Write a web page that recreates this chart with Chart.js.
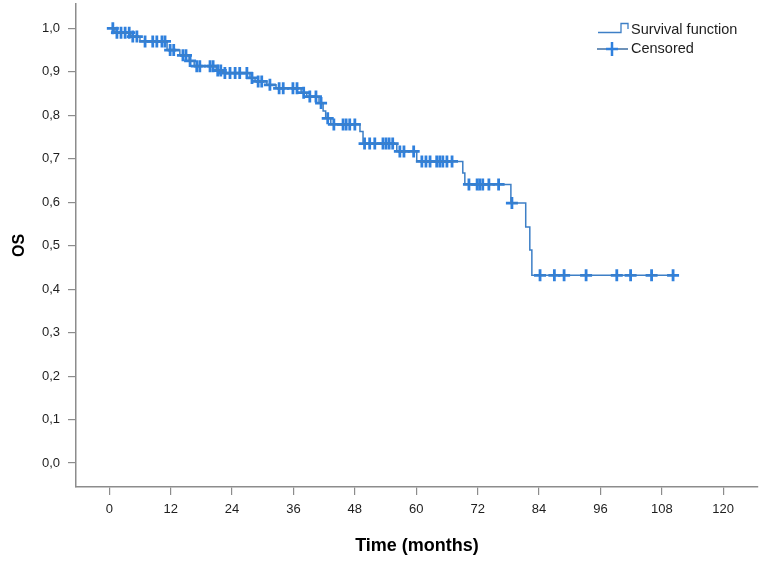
<!DOCTYPE html>
<html>
<head>
<meta charset="utf-8">
<script src="https://cdn.jsdelivr.net/npm/chart.js@4.4.0/dist/chart.umd.min.js"></script>
<style>
  body { margin: 0; background: #fff; }
  #wrap { width: 765px; height: 562px; }
</style>
</head>
<body>
<div id="wrap"><canvas id="kmChart" width="765" height="562"></canvas></div>
<script>
// Data ----------------------------------------------------------------------

// step times (months) and survival right after each step; last entry = end of follow-up
const eventTimes = [0, 1.1, 4.2, 6.0, 11.3, 13.8, 15.6, 16.6, 20.9, 22.2, 27.5, 28.5, 30.8, 32.6, 37.5, 38.6,
  41.0, 41.8, 42.3, 43.3, 49.0, 49.6, 56.2, 60.1, 69.1, 69.5, 78.5, 81.4, 82.2, 82.6, 110.4];
const survival = [1.0, 0.99, 0.981, 0.97, 0.95, 0.938, 0.925, 0.913, 0.903, 0.897, 0.886, 0.878, 0.87, 0.862, 0.852, 0.843,
  0.828, 0.81, 0.793, 0.779, 0.763, 0.735, 0.717, 0.694, 0.667, 0.641, 0.598, 0.543, 0.49, 0.432, 0.432];

// censored cases
const censorTimes = [0.7, 1.5, 2.3, 3.1, 3.9, 4.6, 5.4, 7.0, 8.5, 9.3, 10.3, 10.9, 11.9, 12.6, 14.4, 15.0, 15.8,
  17.1, 17.7, 19.7, 20.3, 21.2, 21.8, 22.6, 23.6, 24.6, 25.5, 26.9, 27.9, 29.1, 29.8, 31.4, 33.2, 34.0, 35.9, 36.7,
  38.0, 39.2, 40.4, 41.4, 42.7, 43.9, 45.7, 46.3, 47.0, 48.0, 49.9, 50.9, 51.9, 53.5, 54.1, 54.7, 55.4, 56.8, 57.6,
  59.5, 61.1, 61.9, 62.7, 64.0, 64.6, 65.2, 66.0, 67.0, 70.3, 71.9, 72.4, 73.0, 74.2, 76.1, 78.7, 84.2, 87.0, 88.9,
  93.2, 99.2, 101.9, 106.0, 110.2];
const censorSurv = [1.0, 0.99, 0.99, 0.99, 0.99, 0.981, 0.981, 0.97, 0.97, 0.97, 0.97, 0.97, 0.95, 0.95, 0.938, 0.938, 0.925,
  0.913, 0.913, 0.913, 0.913, 0.903, 0.903, 0.897, 0.897, 0.897, 0.897, 0.897, 0.886, 0.878, 0.878, 0.87, 0.862, 0.862, 0.862, 0.862,
  0.852, 0.843, 0.843, 0.828, 0.793, 0.779, 0.779, 0.779, 0.779, 0.779, 0.735, 0.735, 0.735, 0.735, 0.735, 0.735, 0.735, 0.717, 0.717,
  0.717, 0.694, 0.694, 0.694, 0.694, 0.694, 0.694, 0.694, 0.694, 0.641, 0.641, 0.641, 0.641, 0.641, 0.641, 0.598, 0.432, 0.432, 0.432,
  0.432, 0.432, 0.432, 0.432, 0.432];

const xTickValues = [0, 12, 24, 36, 48, 60, 72, 84, 96, 108, 120];
const yTickValues = [0, 0.1, 0.2, 0.3, 0.4, 0.5, 0.6, 0.7, 0.8, 0.9, 1.0];

const legendLabels = ['Survival function', 'Censored'];

// colours
const lineColor = '#3d7fc6';
const crossColor = '#2f80dd';
const axisColor = '#8c8c8c';
const textColor = '#1e1e1e';
const FONT = '"Liberation Sans", Arial, sans-serif';

// custom legend (top right, SPSS style) ---------------------------------------
const kmLegend = {
  id: 'kmLegend',
  afterDraw(chart) {
    const ctx = chart.ctx;
    ctx.save();
    // step icon
    ctx.strokeStyle = lineColor;
    ctx.lineWidth = 1.3;
    ctx.beginPath();
    ctx.moveTo(598, 32.5);
    ctx.lineTo(621, 32.5);
    ctx.lineTo(621, 23.5);
    ctx.lineTo(628, 23.5);
    ctx.lineTo(628, 29);
    ctx.stroke();
    // censored icon
    ctx.strokeStyle = '#4a76a8';
    ctx.lineWidth = 1.6;
    ctx.beginPath();
    ctx.moveTo(597, 49);
    ctx.lineTo(628, 49);
    ctx.stroke();
    ctx.strokeStyle = crossColor;
    ctx.lineWidth = 2.5;
    ctx.beginPath();
    ctx.moveTo(612, 42);
    ctx.lineTo(612, 56);
    ctx.moveTo(606, 49);
    ctx.lineTo(618, 49);
    ctx.stroke();
    // texts
    ctx.fillStyle = textColor;
    ctx.font = '14.5px ' + FONT;
    ctx.textBaseline = 'middle';
    ctx.textAlign = 'left';
    ctx.fillText(legendLabels[0], 631, 30);
    ctx.fillText(legendLabels[1], 631, 48.5);
    ctx.restore();
  }
};

// config ----------------------------------------------------------------------
const config = {
  type: 'line',
  data: {
    datasets: [{
      label: legendLabels[0],
      data: eventTimes.map((t, i) => ({ x: t, y: survival[i] })),
      stepped: 'before', // horizontal first, then drop
      borderColor: lineColor,
      borderWidth: 1.5,
      pointRadius: 0,
      fill: false
    }, {
      label: legendLabels[1],
      data: censorTimes.map((t, i) => ({ x: t, y: censorSurv[i] })),
      showLine: false,
      pointStyle: 'cross',
      pointRadius: 6,
      pointBorderWidth: 2.8,
      pointBorderColor: crossColor,
      pointBackgroundColor: crossColor
    }]
  },
  options: {
    responsive: false,
    animation: false,
    layout: { autoPadding: false, padding: { top: 4, right: 7, bottom: 0, left: 0 } },
    plugins: {
      legend: { display: false },
      tooltip: { enabled: false }
    },
    scales: {
      x: {
        type: 'linear',
        min: -6.5,
        max: 126.8,
        afterBuildTicks: (scale) => { scale.ticks = xTickValues.map(v => ({ value: v })); },
        afterFit: (scale) => {
          scale.height = 75;
          scale.paddingLeft = 0;
          scale.paddingRight = 0;
        },
        ticks: { color: textColor, font: { family: FONT, size: 13 }, padding: 7, maxRotation: 0 },
        grid: { display: true, drawOnChartArea: false, drawTicks: true, tickLength: 8, color: axisColor, lineWidth: 1.2 },
        border: { display: true, color: axisColor, width: 1.5 },
        title: {
          display: true,
          text: 'Time (months)',
          color: '#000',
          font: { family: FONT, size: 18, weight: 'bold' },
          padding: { top: 0, bottom: 5 }
        }
      },
      y: {
        type: 'linear',
        min: -0.055,
        max: 1.056,
        afterBuildTicks: (scale) => { scale.ticks = yTickValues.map(v => ({ value: v })); },
        afterFit: (scale) => {
          scale.width = 76;
          scale.paddingTop = 0;
          scale.paddingBottom = 0;
        },
        ticks: {
          color: textColor,
          font: { family: FONT, size: 13 },
          padding: 8,
          callback: (v) => v.toFixed(1).replace('.', ',')
        },
        grid: { display: true, drawOnChartArea: false, drawTicks: true, tickLength: 8, color: axisColor, lineWidth: 1.2 },
        border: { display: true, color: axisColor, width: 1.5 },
        title: {
          display: true,
          text: 'OS',
          color: '#000',
          font: { family: FONT, size: 16, weight: 'bold' },
          padding: { top: 10, bottom: 0 }
        }
      }
    }
  },
  plugins: [kmLegend]
};

// render init block
const kmChart = new Chart(document.getElementById('kmChart'), config);
</script>
</body>
</html>
